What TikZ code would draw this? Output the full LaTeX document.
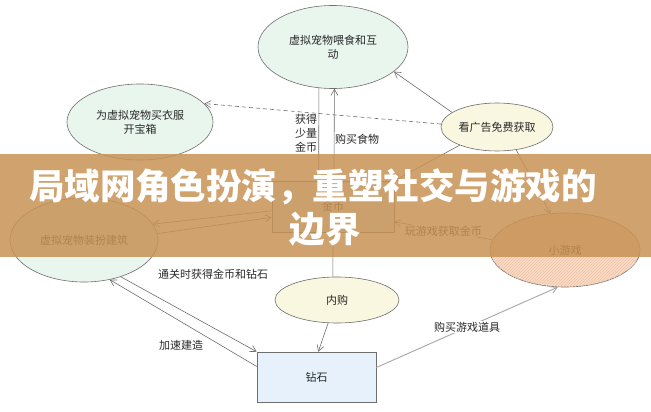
\documentclass[tikz,border=0pt]{standalone}
\usepackage{fontspec}
\setmainfont{Noto Sans CJK SC}
\usetikzlibrary{shapes.geometric,arrows.meta,patterns,calc}
\definecolor{linegray}{RGB}{110,110,110}
\definecolor{textgray}{RGB}{40,40,40}
\definecolor{mint}{RGB}{233,246,238}
\definecolor{cream}{RGB}{250,247,225}
\definecolor{ltblue}{RGB}{230,241,252}
\definecolor{peach}{RGB}{250,218,196}
\definecolor{hatch}{RGB}{238,196,168}
\definecolor{bannerc}{RGB}{200,146,85}
\tikzset{
  ell/.style={ellipse, draw=linegray, line width=0.6pt, inner sep=0pt, align=center,
    text=textgray, font=\fontsize{11}{14}\selectfont},
  boxn/.style={rectangle, draw=linegray, line width=0.6pt, inner sep=0pt, align=center,
    text=textgray, font=\fontsize{11}{14}\selectfont, fill=ltblue},
  conn/.style={draw=linegray, line width=0.6pt},
  arr/.style={conn, -{Straight Barb[length=6pt,width=7pt]}},
  lbl/.style={text=textgray, font=\fontsize{11}{14}\selectfont, inner sep=1pt, align=center},
  ttl/.style={text=white, font=\bfseries\fontsize{35.5}{40}\selectfont, inner sep=0pt}
}
\begin{document}
\begin{tikzpicture}[x=1pt,y=-1pt]
\useasboundingbox (0,0) rectangle (651,412);
\fill[white] (0,0) rectangle (651,412);
% nodes
\node[ell, fill=mint, minimum width=150pt, minimum height=83pt] (feed) at (333,47) {虚拟宠物喂食和互\\动};
\node[ell, fill=mint, minimum width=146pt, minimum height=76pt] (clothes) at (140,122) {为虚拟宠物买衣服\\开宝箱};
\node[ell, fill=cream, minimum width=112pt, minimum height=48pt] (ad) at (497,127) {看广告免费获取};
\node[boxn, minimum width=122pt, minimum height=51pt] (coin) at (333,206.5) {金币};
\node[ell, fill=mint, minimum width=148pt, minimum height=84pt] (build) at (84,240) {虚拟宠物装扮建筑};
\node[ell, fill=peach, postaction={pattern=north east lines, pattern color=hatch},
      minimum width=150pt, minimum height=74pt] (game) at (565,250) {小游戏};
\node[ell, fill=cream, minimum width=124pt, minimum height=46pt] (iap) at (337,300) {内购};
\node[boxn, minimum width=119pt, minimum height=50pt] (diamond) at (316.5,377) {钻石};
% connectors
\draw[arr] (feed.-109) -- (coin.119);
\node[lbl, align=center] (lblA) at (306,133) {获得\\少量\\金币};
\draw[arr] (coin.88) -- (feed.-88.6);
\node[lbl] (lblB) at (357,139) {购买食物};
\draw[arr, dashed, dash pattern=on 4pt off 3pt] (ad.177) -- (clothes.16.3);
\draw[arr] (ad.162.7) -- (feed.-22.4);
\draw[arr] (ad.-154.5) -- (coin.north east);
\draw[arr] (ad.-50) -- (game.112);
\draw[arr] (coin.184.2) -- (build.13.8);
\draw[arr] (build.5.4) -- (coin.190.7);
\draw[arr] (game.172.4) -- node[lbl, fill=white, pos=0.5] (lblC) {玩游戏获取金币} (coin.-14.3);
\draw[conn] (coin.south) -- (iap.100);
\draw[arr] (iap.-111.4) -- (diamond.86.7);
\draw[arr] (build.-45.8) -- (diamond.north west);
\node[lbl] (lblD) at (213,274) {通关时获得金币和钻石};
\draw[arr] (diamond.170.5) -- (build.-57);
\node[lbl] (lblE) at (181,345) {加速建造};
\draw[arr, draw=gray!70, line width=0.9pt] (diamond.9.4) -- node[lbl, fill=white, pos=0.5] (lblF) {购买游戏道具} (game.-101.9);
% banner
\fill[bannerc, opacity=0.85] (0,154) rectangle (651,257);
\node[ttl] (title1) at (313,187) {局域网角色扮演，重塑社交与游戏的};
\node[ttl] (title2) at (325,229) {边界};
\end{tikzpicture}
\end{document}
